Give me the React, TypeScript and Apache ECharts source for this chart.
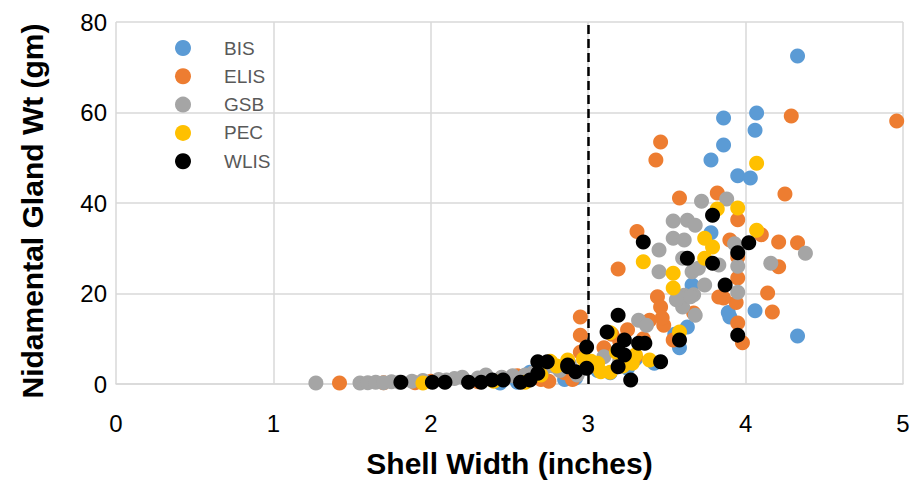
import React, { useEffect, useRef } from "react";
import * as echarts from "echarts";

const seriesNames = ["BIS", "ELIS", "GSB", "PEC", "WLIS"];
const seriesColors = ["#5B9BD5", "#ED7D31", "#A5A5A5", "#FFC000", "#000000"];

const xTicks = [0, 1, 2, 3, 4, 5];
const yTicks = [0, 20, 40, 60, 80];
const cutoffWidth = 3;

const bisData = [
  [4.33, 72.5], [4.07, 59.9], [4.06, 56.1], [3.86, 58.8], [3.86, 52.8], [3.78, 49.5],
  [3.95, 46.0], [4.03, 45.5], [3.78, 33.4], [4.33, 10.6], [4.06, 16.2], [3.9, 14.8],
  [3.89, 15.8], [3.66, 21.9], [3.63, 12.6], [3.58, 8.0], [3.42, 4.6], [3.06, 3.0],
  [3.14, 2.5], [2.92, 1.3], [2.85, 1.0], [2.74, 4.0], [2.63, 2.6], [2.55, 0.4],
  [2.44, 0.2], [3.25, 3.5], [3.3, 5.5], [3.55, 11.0],
];

const elisData = [
  [4.96, 58.1], [4.29, 59.2], [3.46, 53.5], [3.43, 49.5], [4.25, 42.0], [3.58, 41.1],
  [3.82, 42.2], [3.95, 36.3], [4.21, 31.4], [4.33, 31.2], [4.21, 25.9], [4.14, 20.1],
  [4.17, 15.9], [3.98, 9.1], [4.1, 33.0], [3.9, 31.8], [3.95, 28.0], [3.95, 23.4],
  [3.94, 18.0], [3.95, 13.5], [3.86, 19.0], [3.83, 19.2], [3.67, 15.7], [3.54, 9.7],
  [3.48, 13.0], [3.44, 19.3], [3.46, 17.0], [3.39, 14.1], [3.47, 14.6], [3.31, 33.7],
  [3.19, 25.4], [2.95, 14.8], [2.95, 10.8], [2.95, 7.0], [3.1, 8.0], [3.15, 11.0],
  [3.2, 9.5], [3.25, 12.0], [3.3, 6.0], [3.35, 10.0], [3.05, 4.0], [2.85, 2.5],
  [2.9, 1.0], [2.75, 0.6], [2.7, 1.0], [2.55, 1.8], [2.45, 1.4], [2.3, 0.5],
  [2.0, 0.6], [1.9, 0.3], [1.7, 0.3], [1.42, 0.2],
];

const gsbData = [
  [1.27, 0.2], [1.55, 0.2], [1.6, 0.3], [1.65, 0.4], [1.7, 0.3], [1.75, 0.5],
  [1.8, 0.4], [1.88, 0.6], [1.95, 0.8], [2.05, 1.0], [2.1, 0.9], [2.15, 1.2],
  [2.2, 1.5], [2.3, 1.3], [2.35, 2.0], [2.45, 1.5], [2.52, 1.8], [2.6, 2.0],
  [2.65, 2.5], [2.72, 3.5], [2.78, 4.0], [2.82, 3.0], [2.88, 4.5], [2.93, 2.0],
  [3.32, 14.1], [3.37, 13.0], [3.61, 19.6], [3.58, 19.0], [3.67, 19.7], [3.68, 15.2],
  [3.6, 17.0], [3.95, 20.3], [3.95, 26.0], [3.93, 31.0], [3.83, 26.3], [4.38, 28.9],
  [4.16, 26.7], [3.88, 40.9], [3.72, 40.4], [3.54, 36.0], [3.63, 36.2], [3.68, 35.1],
  [3.54, 32.2], [3.61, 31.8], [3.45, 29.6], [3.45, 24.8], [3.6, 27.8], [3.66, 24.8],
  [3.7, 25.6], [3.74, 21.9], [3.56, 18.6], [3.65, 19.3], [3.2, 5.0], [3.1, 6.0],
];

const pecData = [
  [4.07, 48.8], [3.95, 38.9], [3.82, 38.7], [4.07, 34.0], [3.74, 32.2], [3.79, 30.3],
  [3.74, 27.8], [3.54, 24.5], [3.54, 21.2], [3.35, 27.0], [3.58, 11.5], [3.06, 4.6],
  [3.08, 2.7], [3.14, 2.6], [3.28, 4.6], [3.3, 6.4], [3.39, 5.3], [2.87, 5.3],
  [3.14, 11.3], [1.95, 0.2], [2.4, 0.6], [2.6, 0.4], [2.7, 2.0], [2.76, 5.0],
  [2.8, 4.0], [2.97, 5.5], [3.02, 5.0], [3.18, 7.0], [3.22, 4.0],
];

const wlisData = [
  [3.79, 37.3], [3.35, 31.4], [3.63, 27.8], [3.79, 26.7], [3.95, 29.0], [4.02, 31.2],
  [3.87, 21.9], [3.95, 10.8], [3.46, 4.9], [3.19, 15.2], [3.12, 11.5], [2.99, 8.2],
  [2.87, 4.2], [2.92, 2.7], [2.99, 3.5], [3.19, 7.5], [3.23, 9.7], [3.23, 6.4],
  [3.19, 3.8], [3.32, 9.0], [3.36, 9.0], [3.27, 0.9], [3.58, 9.7], [1.81, 0.4],
  [2.01, 0.4], [2.09, 0.4], [2.24, 0.4], [2.32, 0.4], [2.39, 0.9], [2.46, 0.9],
  [2.57, 0.4], [2.63, 0.9], [2.68, 2.4], [2.74, 4.9], [2.68, 4.9], [2.87, 3.8],
];

const allData = [bisData, elisData, gsbData, pecData, wlisData];

const FONT = "Arial, 'Liberation Sans', sans-serif";

export default function App() {
  const ref = useRef<HTMLDivElement>(null);

  useEffect(() => {
    if (!ref.current) return;
    const chart = echarts.init(ref.current, undefined, { renderer: "svg" });
    const series: any[] = seriesNames.map((name, i) => ({
      name,
      type: "scatter",
      data: allData[i],
      symbol: "circle",
      symbolSize: 15,
      itemStyle: { color: seriesColors[i], opacity: 1 },
      z: 2 + i,
    }));
    series[series.length - 1].markLine = {
      silent: true,
      symbol: ["none", "none"],
      label: { show: false },
      lineStyle: { color: "#000", type: [9, 5], width: 2.5 },
      data: [{ xAxis: cutoffWidth }],
      z: 1,
    };
    chart.setOption({
      animation: false,
      textStyle: { fontFamily: FONT },
      grid: { left: 116, right: 19, top: 22, bottom: 108, containLabel: false },
      legend: {
        show: true,
        orient: "vertical",
        left: 175,
        top: 38.5,
        padding: 0,
        itemWidth: 16,
        itemHeight: 16,
        itemGap: 9.3,
        icon: "circle",
        data: seriesNames,
        textStyle: {
          fontSize: 19,
          color: "#595959",
          fontFamily: FONT,
          padding: [0, 0, 0, 28],
        },
      },
      xAxis: {
        type: "value",
        min: xTicks[0],
        max: xTicks[xTicks.length - 1],
        interval: 1,
        name: "Shell Width (inches)",
        nameLocation: "middle",
        nameGap: 64,
        nameTextStyle: { fontSize: 30, fontWeight: "bold", color: "#000", fontFamily: FONT },
        axisLine: { show: true, lineStyle: { color: "#d9d9d9", width: 1.5 } },
        axisTick: { show: false },
        axisLabel: { fontSize: 24, color: "#000", margin: 27, fontFamily: FONT },
        splitLine: { show: true, lineStyle: { color: "#d9d9d9", width: 1.5 } },
      },
      yAxis: {
        type: "value",
        min: yTicks[0],
        max: yTicks[yTicks.length - 1],
        interval: 20,
        name: "Nidamental Gland Wt (gm)",
        nameLocation: "middle",
        nameGap: 69,
        nameTextStyle: {
          fontSize: 30,
          fontWeight: "bold",
          color: "#000",
          fontFamily: FONT,
          padding: [0, 16, 0, 0],
        },
        axisLine: { show: false },
        axisTick: { show: false },
        axisLabel: { fontSize: 24, color: "#000", margin: 9, fontFamily: FONT },
        splitLine: { show: true, lineStyle: { color: "#d9d9d9", width: 1.5 } },
      },
      series,
    });
    return () => chart.dispose();
  }, []);

  return (
    <div
      ref={ref}
      style={{ position: "fixed", left: 0, top: 0, width: 922, height: 492, background: "#fff" }}
    />
  );
}
